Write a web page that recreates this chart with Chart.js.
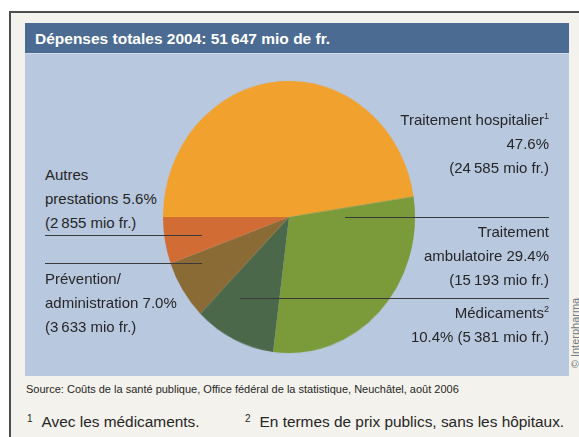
<!doctype html>
<html>

<head>
	<title>Dépenses totales 2004</title>
	<meta charset="utf-8">
	<script src="https://cdn.jsdelivr.net/npm/chart.js@4/dist/chart.umd.min.js"></script>
	<style>
		* {
			box-sizing: border-box;
		}

		body {
			margin: 0;
			width: 579px;
			height: 437px;
			overflow: hidden;
			background: #ffffff;
			font-family: "Liberation Sans", Arial, sans-serif;
			color: #262626;
			position: relative;
		}

		.frame {
			position: absolute;
			left: 9px;
			top: 11px;
			width: 620px;
			height: 480px;
			border-left: 2px solid #4d4d4d;
			border-top: 2px solid #4d4d4d;
			background: #f4f2ec;
		}

		.titlebar {
			position: absolute;
			left: 25px;
			top: 23px;
			width: 544px;
			height: 30px;
			background: #4b6b92;
			color: #fff;
			font-family: "Liberation Sans Narrow", "Arial Narrow", sans-serif;
			font-weight: bold;
			font-size: 15.5px;
			line-height: 31px;
			padding-left: 10px;
		}

		.panel {
			position: absolute;
			left: 25px;
			top: 53px;
			width: 544px;
			height: 323px;
			background: #b8c8df;
			border-top: 1px solid #d0dcec;
		}

		#canvas-holder {
			position: absolute;
			left: 159px;
			top: 87px;
			width: 260px;
			height: 260px;
			transform: scaleY(1.08);
			transform-origin: 50% 50%;
		}

		.lbl {
			position: absolute;
			font-size: 15px;
			line-height: 24px;
			white-space: nowrap;
		}

		.lbl.r {
			text-align: right;
		}

		.lbl sup {
			font-size: 9px;
			vertical-align: 6px;
			line-height: 0;
		}

		.lead {
			position: absolute;
			height: 1px;
			background: #3a3a3a;
		}

		.source {
			position: absolute;
			left: 26px;
			top: 383px;
			font-size: 11px;
			white-space: nowrap;
		}

		.foot {
			position: absolute;
			top: 413px;
			font-size: 15.4px;
			white-space: nowrap;
		}

		.foot sup {
			font-size: 10px;
			vertical-align: 5px;
			line-height: 0;
			margin-right: 9px;
		}

		.copy {
			position: absolute;
			left: 530px;
			top: 327px;
			width: 90px;
			font-size: 11px;
			color: #7a7a7a;
			transform: rotate(-90deg);
			transform-origin: 50% 50%;
			text-align: center;
			white-space: nowrap;
		}
	</style>
</head>

<body>
	<div class="frame"></div>
	<div class="titlebar" id="title"></div>
	<div class="panel"></div>

	<div id="canvas-holder">
		<canvas id="chart-area"></canvas>
	</div>

	<div id="labels"></div>

	<div class="lead" style="left:45px;top:235px;width:157px;"></div>
	<div class="lead" style="left:45px;top:263px;width:157px;"></div>
	<div class="lead" style="left:345px;top:217px;width:204px;"></div>
	<div class="lead" style="left:240px;top:298px;width:309px;"></div>

	<div class="source">Source: Coûts de la santé publique, Office fédéral de la statistique, Neuchâtel, août 2006</div>
	<div class="foot" style="left:27px;"><sup>1</sup>Avec les médicaments.</div>
	<div class="foot" style="left:245px;"><sup>2</sup>En termes de prix publics, sans les hôpitaux.</div>
	<div class="copy">© Interpharma</div>

	<script>
		// dépenses par poste, en mio de fr.
		var categories = [
			'Traitement hospitalier',
			'Traitement ambulatoire',
			'Médicaments',
			'Prévention/administration',
			'Autres prestations'
		];
		var valeurs = [24585, 15193, 5381, 3633, 2855];
		var pourcents = ['47.6', '29.4', '10.4', '7.0', '5.6'];
		var couleurs = ['#f0a12e', '#7b9b3b', '#4b684b', '#8b6b35', '#d16d34'];
		var total = 51647;

		var nb = function (n) {
			// séparateur de milliers: espace fine
			return String(n).replace(/\B(?=(\d{3})+(?!\d))/g, '\u2009');
		};

		document.getElementById('title').textContent =
			'Dépenses totales 2004: ' + nb(total) + ' mio de fr.';

		var mio = function (i) {
			return '(' + nb(valeurs[i]) + ' mio fr.)';
		};

		var html = '';
		html += '<div class="lbl r" style="right:30px;top:108px;">Traitement hospitalier<sup>1</sup><br>' +
			pourcents[0] + '%<br>' + mio(0) + '</div>';
		html += '<div class="lbl r" style="right:30px;top:220px;">Traitement<br>ambulatoire ' +
			pourcents[1] + '%<br>' + mio(1) + '</div>';
		html += '<div class="lbl r" style="right:30px;top:301px;">Médicaments<sup>2</sup><br>' +
			pourcents[2] + '% ' + mio(2) + '</div>';
		html += '<div class="lbl" style="left:45px;top:163px;">Autres<br>prestations ' +
			pourcents[4] + '%<br>' + mio(4) + '</div>';
		html += '<div class="lbl" style="left:45px;top:267px;">Prévention/<br>administration ' +
			pourcents[3] + '%<br>' + mio(3) + '</div>';
		document.getElementById('labels').innerHTML = html;

		var config = {
			type: 'pie',
			data: {
				labels: categories,
				datasets: [{
					data: valeurs,
					backgroundColor: couleurs,
					borderWidth: 0
				}]
			},
			options: {
				responsive: true,
				maintainAspectRatio: false,
				animation: false,
				rotation: -90,
				layout: {
					padding: 4
				},
				plugins: {
					legend: { display: false },
					tooltip: { enabled: false }
				}
			}
		};

		var ctx = document.getElementById('chart-area').getContext('2d');
		window.myPie = new Chart(ctx, config);
	</script>
</body>

</html>
